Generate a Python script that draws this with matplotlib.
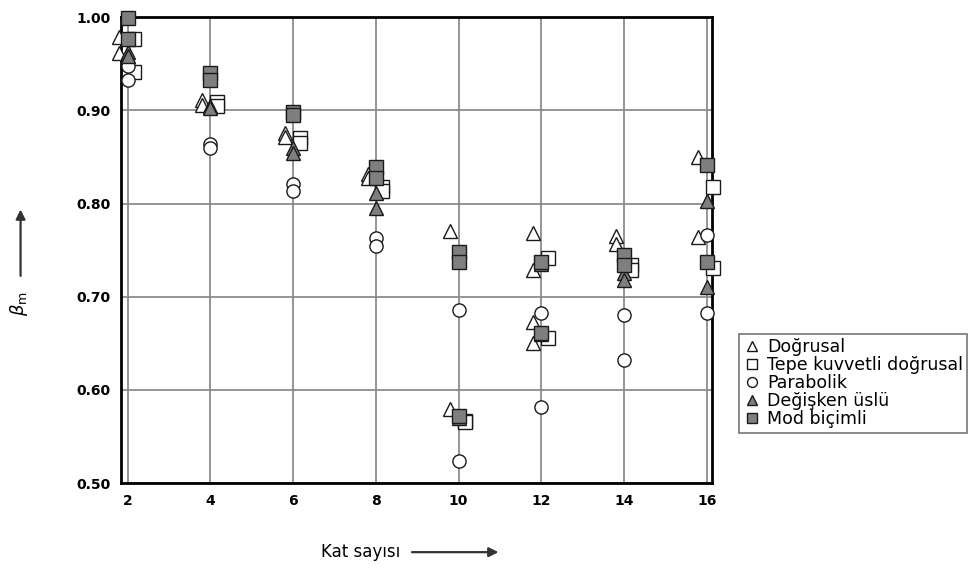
import matplotlib.pyplot as plt

# Kat sayısı vs beta_m, five load distributions
dogrusal_x = [2, 2, 4, 4, 6, 6, 8, 8, 10, 10, 12, 12, 12, 12, 14, 14, 16, 16]
dogrusal_y = [0.979, 0.961, 0.911, 0.906, 0.876, 0.871, 0.832, 0.827, 0.770, 0.579,
              0.768, 0.729, 0.673, 0.650, 0.765, 0.757, 0.850, 0.764]

tepe_x = [2, 2, 4, 4, 6, 6, 8, 8, 10, 10, 12, 12, 14, 14, 16, 16]
tepe_y = [0.977, 0.941, 0.909, 0.905, 0.870, 0.865, 0.818, 0.813, 0.567, 0.565,
          0.742, 0.656, 0.734, 0.729, 0.818, 0.731]

parabolik_x = [2, 2, 4, 4, 6, 6, 8, 8, 10, 10, 12, 12, 14, 14, 16, 16]
parabolik_y = [0.948, 0.932, 0.864, 0.860, 0.821, 0.813, 0.763, 0.754, 0.686, 0.524,
               0.682, 0.582, 0.680, 0.632, 0.766, 0.682]

degisken_x = [2, 2, 4, 4, 6, 6, 8, 8, 10, 10, 12, 12, 14, 14, 16, 16]
degisken_y = [0.963, 0.958, 0.905, 0.902, 0.860, 0.854, 0.811, 0.795, 0.740, 0.570,
              0.735, 0.660, 0.725, 0.718, 0.803, 0.710]

mod_x = [2, 2, 4, 4, 6, 6, 8, 8, 10, 10, 10, 12, 12, 14, 14, 16, 16]
mod_y = [0.999, 0.977, 0.940, 0.933, 0.898, 0.895, 0.839, 0.827, 0.748, 0.737, 0.572,
         0.737, 0.661, 0.745, 0.734, 0.841, 0.737]

x_ticks = [2, 4, 6, 8, 10, 12, 14, 16]
y_ticks = [0.50, 0.60, 0.70, 0.80, 0.90, 1.00]

GRAY = '#7f7f7f'
EDGE = '#1a1a1a'

fig = plt.figure(figsize=(9.79, 5.71), dpi=100)
ax = fig.add_axes([0.124, 0.154, 0.603, 0.816])

# series: (x, y, x shift, marker, fill, label)
series = [
    (dogrusal_x, dogrusal_y, -0.2, '^', 'white', 'Doğrusal'),
    (tepe_x, tepe_y, 0.16, 's', 'white', 'Tepe kuvvetli doğrusal'),
    (parabolik_x, parabolik_y, 0.0, 'o', 'white', 'Parabolik'),
    (degisken_x, degisken_y, 0.0, '^', GRAY, 'Değişken üslü'),
    (mod_x, mod_y, 0.0, 's', GRAY, 'Mod biçimli'),
]
for xs, ys, dx, mk, fc, lab in series:
    ax.plot([v + dx for v in xs], ys, linestyle='none', marker=mk, markersize=9.5,
            markerfacecolor=fc, markeredgecolor=EDGE, markeredgewidth=1.0,
            label=lab, clip_on=False, zorder=3)

ax.set_xlim(1.85, 16.12)
ax.set_ylim(0.50, 1.00)
ax.set_xticks(x_ticks)
ax.set_yticks(y_ticks)
ax.set_yticklabels(['%.2f' % v for v in y_ticks])
ax.grid(True, color='#8c8c8c', linewidth=1.3)
ax.set_axisbelow(True)
for s in ax.spines.values():
    s.set_linewidth(2)
    s.set_color('black')
ax.tick_params(length=0, pad=8, labelsize=10)
for t in ax.get_xticklabels() + ax.get_yticklabels():
    t.set_fontweight('bold')

# axis titles with arrows
fig.text(0.019, 0.468, r'$\beta_\mathrm{m}$', rotation=90, fontsize=13,
         ha='center', va='center')
ax.annotate('', xy=(0.021, 0.638), xycoords='figure fraction',
            xytext=(0.021, 0.512), textcoords='figure fraction',
            arrowprops=dict(arrowstyle='-|>', color='#333333', lw=1.6, mutation_scale=14))
fig.text(0.368, 0.033, 'Kat sayısı', fontsize=12, ha='center', va='center')
ax.annotate('', xy=(0.512, 0.033), xycoords='figure fraction',
            xytext=(0.418, 0.033), textcoords='figure fraction',
            arrowprops=dict(arrowstyle='-|>', color='#333333', lw=1.6, mutation_scale=14))

leg = fig.legend(loc='upper left', bbox_to_anchor=(0.746, 0.43), fontsize=12.5,
                 frameon=True, fancybox=False, handletextpad=0.35, borderpad=0.25,
                 labelspacing=0.0, handlelength=1.0, markerscale=0.75)
leg.get_frame().set_edgecolor('#555555')
leg.get_frame().set_linewidth(1.2)

fig.savefig('out.png', dpi=100)
